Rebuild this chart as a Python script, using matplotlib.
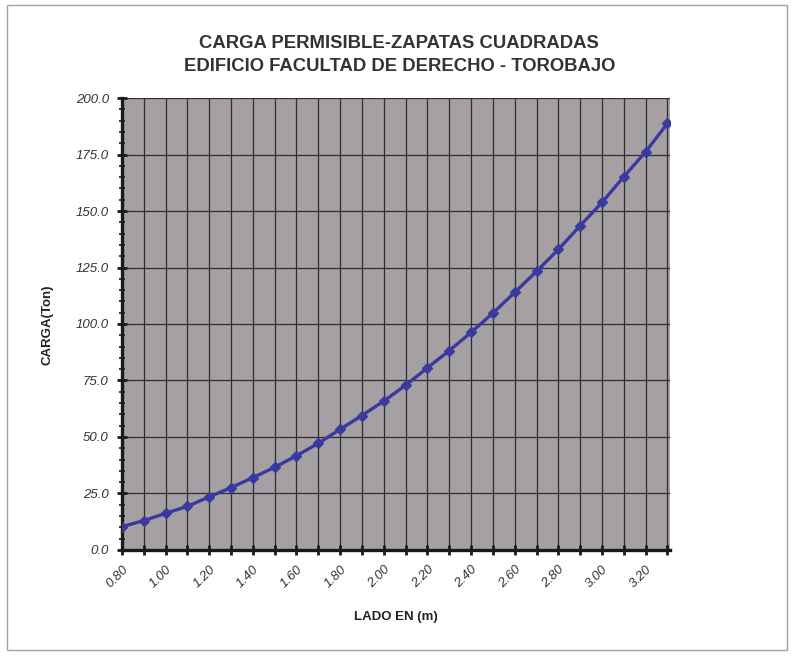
import numpy as np
import matplotlib
matplotlib.use('Agg')
import matplotlib.pyplot as plt
from matplotlib.patches import Rectangle
from matplotlib.ticker import MultipleLocator

# Lado de la zapata (m) y carga permisible (Ton)
lado = [0.80, 0.90, 1.00, 1.10, 1.20, 1.30, 1.40, 1.50, 1.60, 1.70,
        1.80, 1.90, 2.00, 2.10, 2.20, 2.30, 2.40, 2.50, 2.60, 2.70,
        2.80, 2.90, 3.00, 3.10, 3.20, 3.30]
carga = [10.3, 13.0, 16.2, 19.3, 23.5, 27.6, 32.0, 36.6, 41.7, 47.2,
         53.4, 59.5, 65.9, 72.9, 80.6, 88.2, 96.3, 104.8, 114.0, 123.3,
         133.0, 143.5, 153.8, 165.2, 176.2, 188.8]

title = 'CARGA PERMISIBLE-ZAPATAS CUADRADAS\nEDIFICIO FACULTAD DE DERECHO - TOROBAJO'
xlabel = 'LADO EN (m)'
ylabel = 'CARGA(Ton)'

plt.rcParams['font.family'] = ['Liberation Sans', 'DejaVu Sans']

fig = plt.figure(figsize=(8.02, 6.56), dpi=100)
fig.patch.set_facecolor('white')

# marco exterior del grafico
fig.patches.append(Rectangle((7 / 802, 6 / 656), 780 / 802, 645 / 656,
                             transform=fig.transFigure, fill=False,
                             edgecolor='#a0a0a0', linewidth=1.0))

ax = fig.add_axes([0.152, 0.1616, 0.683, 0.689])
ax.set_facecolor('#a5a0a3')

# eje de categorias (como en Excel)
pos = np.arange(len(lado))
ax.plot(pos, carga, color='#3a3a9e', linewidth=2.4, marker='D',
        markersize=5.5, markerfacecolor='#3a3a9e', markeredgecolor='#3a3a9e',
        zorder=3)

ax.set_xlim(0, len(lado) - 0.9)
ax.set_ylim(0, 200)

ax.set_xticks(pos)
ax.set_xticklabels([f'{v:.2f}' if i % 2 == 0 else '' for i, v in enumerate(lado)],
                   rotation=45, ha='right', rotation_mode='anchor',
                   fontsize=9.5, fontstyle='italic', color='#333333')
ax.yaxis.set_minor_locator(MultipleLocator(5))
ax.set_yticks(np.arange(0, 201, 25))
ax.set_yticklabels([f'{v:.1f}' for v in np.arange(0, 201, 25)],
                   fontsize=9.5, fontstyle='italic', color='#333333')

ax.tick_params(axis='both', which='major', direction='inout', length=7,
               width=2, color='#1a1a1a')
ax.tick_params(axis='y', which='minor', direction='inout', length=4,
               width=1.2, color='#1a1a1a')
ax.tick_params(axis='x', pad=6)
ax.tick_params(axis='y', pad=6)

ax.grid(True, which='major', axis='both', color='#2e2e2e', linewidth=0.9)
ax.set_axisbelow(True)

for side in ['top', 'right']:
    ax.spines[side].set_visible(False)
for side in ['left', 'bottom']:
    ax.spines[side].set_linewidth(2.4)
    ax.spines[side].set_color('#1a1a1a')

fig.text(0.498, 0.916, title, ha='center', va='center', fontsize=13.3,
         fontweight='bold', color='#333333', linespacing=1.45)
fig.text(0.493, 0.059, xlabel, ha='center', va='center', fontsize=9.5,
         fontweight='bold', color='#222222')
fig.text(0.059, 0.505, ylabel, ha='center', va='center', rotation=90,
         fontsize=9.5, fontweight='bold', color='#222222')

fig.savefig('out.png', dpi=100)
